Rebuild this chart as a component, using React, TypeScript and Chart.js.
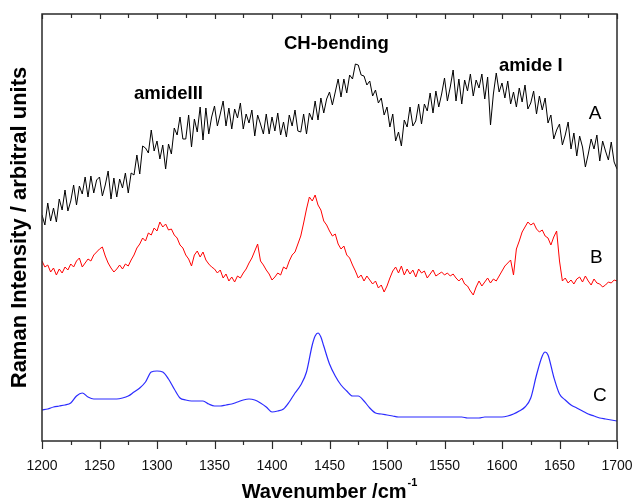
import React, { useEffect, useRef } from "react";
import { Chart, registerables } from "chart.js";

Chart.register(...registerables);

// ---- data ----
const majorTicks = [1200, 1250, 1300, 1350, 1400, 1450, 1500, 1550, 1600, 1650, 1700];
const minorTicks = [1225, 1275, 1325, 1375, 1425, 1475, 1525, 1575, 1625, 1675];

// shared wavenumber grid for traces A and B (1200..1700, step 2.5)
const wavenumbersAB = Array.from({ length: 201 }, (_, i) => 1200 + i * 2.5);

const intensityA = [
  226, 216, 238, 220, 233, 219, 242, 231, 251, 230,
  240, 256, 236, 255, 247, 264, 244, 265, 248, 261,
  264, 245, 256, 270, 242, 263, 244, 262, 253, 268,
  248, 268, 266, 286, 267, 295, 293, 288, 311, 290,
  300, 282, 296, 272, 297, 287, 313, 306, 324, 302,
  302, 326, 294, 322, 309, 334, 301, 333, 307, 324,
  335, 315, 327, 340, 315, 333, 312, 332, 323, 338,
  312, 327, 318, 331, 305, 326, 317, 307, 327, 307,
  324, 310, 328, 306, 319, 304, 326, 315, 331, 310,
  309, 327, 307, 328, 321, 340, 321, 343, 328, 342,
  349, 336, 349, 362, 344, 362, 348, 366, 362, 377,
  376, 366, 365, 356, 360, 345, 351, 338, 343, 326,
  334, 314, 327, 300, 309, 295, 321, 314, 334, 315,
  320, 337, 317, 337, 330, 348, 328, 350, 334, 347,
  363, 340, 354, 371, 340, 362, 337, 361, 350, 367,
  345, 361, 353, 367, 342, 364, 316, 347, 368, 349,
  358, 343, 360, 337, 349, 334, 353, 339, 356, 332,
  338, 350, 327, 345, 331, 343, 318, 326, 302, 311,
  317, 296, 306, 319, 292, 308, 285, 305, 294, 274,
  287, 302, 292, 306, 280, 300, 290, 281, 299, 279,
  272,
];

const intensityB = [
  180, 174, 176, 169, 173, 166, 172, 168, 174, 171,
  177, 174, 180, 183, 174, 178, 182, 180, 186, 189,
  192, 194, 185, 178, 173, 169, 172, 176, 172, 177,
  175, 181, 186, 193, 197, 203, 200, 208, 206, 213,
  210, 219, 214, 217, 211, 212, 206, 203, 196, 193,
  186, 182, 175, 186, 190, 184, 189, 181, 177, 174,
  172, 168, 171, 163, 167, 160, 164, 159, 165, 163,
  168, 172, 178, 183, 190, 197, 180, 176, 171, 167,
  161, 164, 168, 166, 174, 172, 180, 186, 189, 197,
  205, 218, 232, 244, 240, 246, 236, 231, 220, 216,
  210, 205, 207, 197, 192, 195, 186, 183, 176, 170,
  163, 166, 160, 165, 161, 157, 160, 153, 156, 149,
  155, 163, 170, 174, 168, 175, 166, 172, 167, 171,
  164, 172, 168, 170, 163, 167, 171, 165, 167, 169,
  166, 168, 165, 167, 163, 160, 163, 157, 155, 150,
  146, 154, 160, 155, 159, 163, 158, 162, 160, 165,
  170, 175, 178, 181, 166, 192, 200, 209, 214, 219,
  216, 218, 212, 209, 211, 205, 203, 196, 204, 210,
  180, 160, 163, 158, 161, 157, 162, 164, 159, 165,
  160, 156, 162, 158, 157, 154, 156, 159, 158, 161,
  160,
];

const wavenumbersC = [
  1200, 1205, 1210, 1215, 1220, 1225, 1230, 1235, 1240, 1245,
  1250, 1255, 1260, 1265, 1270, 1275, 1280, 1285, 1290, 1295,
  1300, 1305, 1310, 1315, 1320, 1325, 1330, 1335, 1340, 1345,
  1350, 1355, 1360, 1365, 1370, 1375, 1380, 1385, 1390, 1395,
  1400, 1405, 1410, 1415, 1420, 1425, 1430, 1435, 1437.5, 1440,
  1442.5, 1445, 1450, 1455, 1460, 1465, 1470, 1475, 1480, 1485,
  1490, 1495, 1500, 1505, 1510, 1515, 1520, 1525, 1530, 1535,
  1540, 1545, 1550, 1555, 1560, 1565, 1570, 1575, 1580, 1585,
  1590, 1595, 1600, 1605, 1610, 1615, 1620, 1625, 1630, 1635,
  1637.5, 1640, 1645, 1650, 1655, 1660, 1665, 1670, 1675, 1680,
  1685, 1690, 1695, 1700,
];

const intensityC = [
  31, 32, 34, 35, 36, 38, 45, 48, 44, 42,
  42, 42, 42, 42, 43, 45, 49, 53, 59, 69,
  70, 69, 62, 52, 43, 41, 40, 40, 40, 37,
  35, 35, 36, 37, 39, 41, 42, 41, 38, 34,
  29, 30, 32, 39, 48, 56, 69, 96, 105, 108,
  104, 95, 77, 65, 56, 50, 45, 45, 40, 33,
  28, 27, 26, 25, 24, 24, 24, 24, 24, 24,
  24, 24, 24, 24, 24, 24, 23, 23, 23, 24,
  24, 24, 24, 25, 27, 30, 34, 43, 66, 85,
  89, 86, 64, 47, 41, 36, 33, 30, 27, 25,
  23, 22, 21, 20,
];

const bandLabels = ["amideIII", "CH-bending", "amide I"];
const bandLabelX = [1310, 1456, 1625];
const bandLabelY = [342, 392, 370];
const traceLabels = ["A", "B", "C"];
const traceLabelX = [1681, 1682, 1685];
const traceLabelY = [322, 178, 40];

const xTitle = "Wavenumber /cm";
const xTitleSup = "-1";
const yTitle = "Raman Intensity / arbitral units";

const FONT = 'Arial, "Liberation Sans", sans-serif';

const decorPlugin = {
  id: "decor",
  afterDraw(chart: any) {
    const { ctx, chartArea: ca, scales } = chart;
    const xs = scales.x;
    const ys = scales.y;
    ctx.save();
    // frame
    ctx.strokeStyle = "#2a2a2a";
    ctx.lineWidth = 1.5;
    ctx.strokeRect(ca.left, ca.top, ca.right - ca.left, ca.bottom - ca.top);
    // ticks
    ctx.lineWidth = 1.2;
    ctx.beginPath();
    for (const v of majorTicks) {
      const px = Math.round(xs.getPixelForValue(v)) + 0.5;
      ctx.moveTo(px, ca.bottom);
      ctx.lineTo(px, ca.bottom + 8);
      ctx.moveTo(px, ca.top);
      ctx.lineTo(px, ca.top + 5);
    }
    for (const v of minorTicks) {
      const px = Math.round(xs.getPixelForValue(v)) + 0.5;
      ctx.moveTo(px, ca.bottom);
      ctx.lineTo(px, ca.bottom + 4);
      ctx.moveTo(px, ca.top);
      ctx.lineTo(px, ca.top + 4);
    }
    ctx.stroke();

    ctx.fillStyle = "#000";
    // band annotations
    ctx.font = `bold 18.5px ${FONT}`;
    ctx.textAlign = "center";
    ctx.textBaseline = "alphabetic";
    bandLabels.forEach((t, i) => {
      ctx.fillText(t, xs.getPixelForValue(bandLabelX[i]), ys.getPixelForValue(bandLabelY[i]));
    });
    // trace labels
    ctx.font = `19px ${FONT}`;
    traceLabels.forEach((t, i) => {
      ctx.fillText(t, xs.getPixelForValue(traceLabelX[i]), ys.getPixelForValue(traceLabelY[i]));
    });

    // x title with superscript
    ctx.font = `bold 20px ${FONT}`;
    const w1 = ctx.measureText(xTitle).width;
    ctx.font = `bold 11px ${FONT}`;
    const w2 = ctx.measureText(xTitleSup).width;
    const cx = (ca.left + ca.right) / 2;
    const startX = cx - (w1 + w2 + 1) / 2;
    ctx.textAlign = "left";
    ctx.font = `bold 20px ${FONT}`;
    ctx.fillText(xTitle, startX, 498);
    ctx.font = `bold 11px ${FONT}`;
    ctx.fillText(xTitleSup, startX + w1 + 1, 486);

    // y title
    ctx.save();
    ctx.translate(26, (ca.top + ca.bottom) / 2);
    ctx.rotate(-Math.PI / 2);
    ctx.font = `bold 22px ${FONT}`;
    ctx.textAlign = "center";
    ctx.textBaseline = "alphabetic";
    ctx.fillText(yTitle, 0, 0);
    ctx.restore();

    ctx.restore();
  },
};

export default function App() {
  const canvasRef = useRef<HTMLCanvasElement | null>(null);

  useEffect(() => {
    const canvas = canvasRef.current;
    if (!canvas) return;
    const chart = new Chart(canvas, {
      type: "line",
      data: {
        datasets: [
          {
            label: "A",
            data: wavenumbersAB.map((x, i) => ({ x, y: intensityA[i] })),
            borderColor: "#000000",
            borderWidth: 1,
            pointRadius: 0,
            tension: 0,
          },
          {
            label: "B",
            data: wavenumbersAB.map((x, i) => ({ x, y: intensityB[i] })),
            borderColor: "#ff0000",
            borderWidth: 1,
            pointRadius: 0,
            tension: 0,
          },
          {
            label: "C",
            data: wavenumbersC.map((x, i) => ({ x, y: intensityC[i] })),
            borderColor: "#2b2bff",
            borderWidth: 1.2,
            pointRadius: 0,
            cubicInterpolationMode: "monotone",
          },
        ],
      },
      options: {
        animation: false,
        responsive: false,
        maintainAspectRatio: false,
        layout: { padding: { top: 14, right: 19, left: 0, bottom: 0 } },
        plugins: {
          legend: { display: false },
          tooltip: { enabled: false },
        },
        scales: {
          x: {
            type: "linear",
            min: 1200,
            max: 1700,
            afterBuildTicks: (s: any) => {
              s.ticks = majorTicks.map((v) => ({ value: v }));
            },
            ticks: {
              autoSkip: false,
              maxRotation: 0,
              padding: 9,
              color: "#111",
              font: { family: FONT, size: 14 },
              callback: (v: any) => String(v),
            },
            grid: { display: false },
            border: { display: false },
            afterFit: (s: any) => {
              s.height = 62;
              s.paddingLeft = 0;
              s.paddingRight = 0;
            },
          },
          y: {
            min: 0,
            max: 427,
            ticks: { display: false },
            grid: { display: false },
            border: { display: false },
            afterFit: (s: any) => {
              s.width = 42;
            },
          },
        },
      },
      plugins: [decorPlugin],
    });
    return () => chart.destroy();
  }, []);

  return (
    <div style={{ position: "fixed", left: 0, top: 0, width: 636, height: 503, background: "#fff" }}>
      <canvas ref={canvasRef} width={636} height={503} style={{ display: "block" }} />
    </div>
  );
}
